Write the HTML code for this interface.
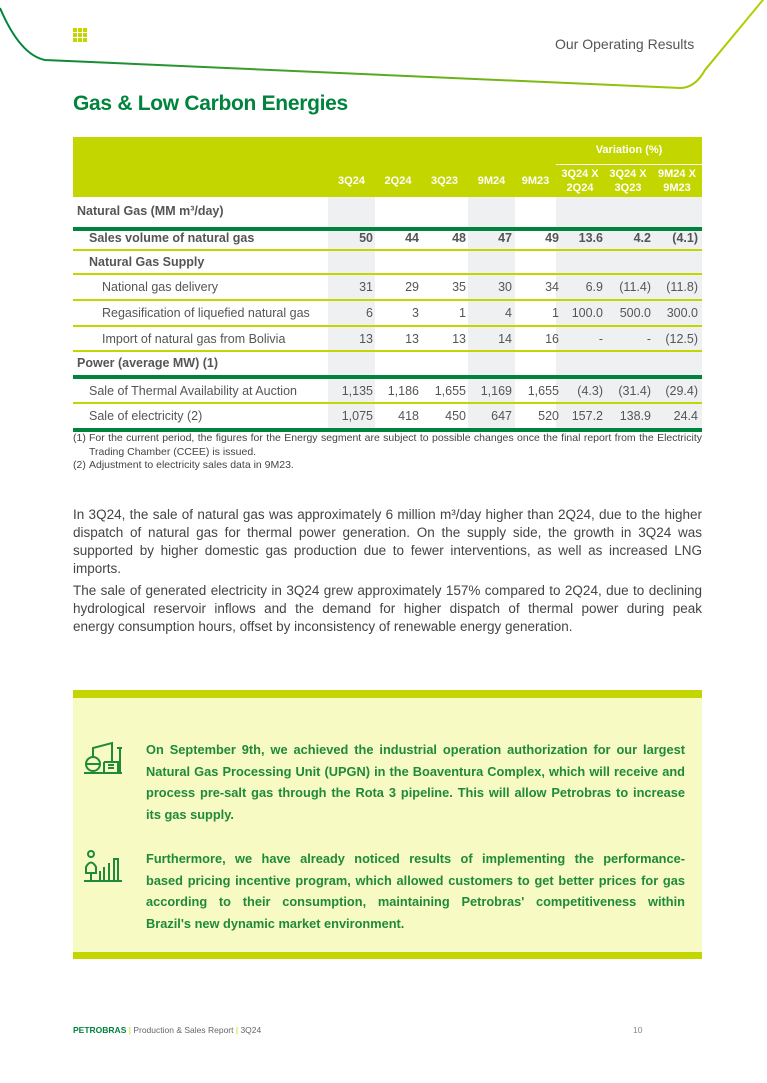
<!DOCTYPE html>
<html><head><meta charset="utf-8"><style>
body{margin:0;width:767px;height:1083px;background:#fff;position:relative;overflow:hidden;font-family:"Liberation Sans",sans-serif;color:#444}
.a{position:absolute}
.hdr{left:73px;top:137px;width:629px;height:60px;background:#c4d600}
.shade{background:#eef0f2;position:absolute}
.row{position:absolute;left:73px;width:629px;font-size:12.5px;color:#555}
.row span{position:absolute;top:0;text-align:right}
.ln{position:absolute;left:73px;width:629px;height:1.5px;background:#c4d600}
.tk{position:absolute;left:73px;width:629px;height:4px;background:#00843d}
.h{color:#fff;font-weight:bold;font-size:11px;position:absolute;text-align:center}
.p div{text-align:justify;text-align-last:justify;white-space:nowrap}
.p div.l{text-align-last:left}
.b div{text-align:justify;text-align-last:justify;white-space:nowrap}
.b div.l{text-align-last:left}
.gd{position:absolute;width:4px;height:4px;background:#c4d600}
</style></head><body>
<svg class="a" style="left:0;top:0" width="767" height="100">
<defs><linearGradient id="g" x1="0" x2="1"><stop offset="0" stop-color="#00843d"/><stop offset="1" stop-color="#b5d000"/></linearGradient></defs>
<path d="M0,8 Q20,55 45,60 L680,88 Q695,88 705,70 L767,-5" fill="none" stroke="url(#g)" stroke-width="2"/>
</svg>
<div class="gd" style="left:73px;top:28px"></div><div class="gd" style="left:78px;top:28px"></div><div class="gd" style="left:83px;top:28px"></div>
<div class="gd" style="left:73px;top:33px"></div><div class="gd" style="left:78px;top:33px"></div><div class="gd" style="left:83px;top:33px"></div>
<div class="gd" style="left:73px;top:38px"></div><div class="gd" style="left:78px;top:38px"></div><div class="gd" style="left:83px;top:38px"></div>
<div class="a" style="left:555px;top:36px;font-size:14px;color:#555">Our Operating Results</div>
<div class="a" style="left:73px;top:92px;font-size:21px;font-weight:bold;color:#00843d;letter-spacing:-0.3px">Gas &amp; Low Carbon Energies</div>

<div class="a hdr"></div>
<div class="h" style="left:556px;top:144px;width:146px">Variation (%)</div>
<div class="a" style="left:556px;top:164px;width:146px;height:1px;background:#fff"></div>
<div class="h" style="left:328px;top:175px;width:47px">3Q24</div>
<div class="h" style="left:375px;top:175px;width:46px">2Q24</div>
<div class="h" style="left:421px;top:175px;width:47px">3Q23</div>
<div class="h" style="left:468px;top:175px;width:47px">9M24</div>
<div class="h" style="left:515px;top:175px;width:41px">9M23</div>
<div class="h" style="left:556px;top:167px;width:48px;line-height:14px">3Q24 X<br>2Q24</div>
<div class="h" style="left:604px;top:167px;width:48px;line-height:14px">3Q24 X<br>3Q23</div>
<div class="h" style="left:652px;top:167px;width:50px;line-height:14px">9M24 X<br>9M23</div>

<div class="shade" style="left:328px;top:197px;width:47px;height:231px"></div>
<div class="shade" style="left:468px;top:197px;width:47px;height:231px"></div>
<div class="shade" style="left:556px;top:197px;width:146px;height:231px"></div>

<div class="tk" style="top:227px"></div>
<div class="ln" style="top:249px"></div>
<div class="ln" style="top:273px"></div>
<div class="ln" style="top:299px"></div>
<div class="ln" style="top:325px"></div>
<div class="ln" style="top:350px"></div>
<div class="tk" style="top:375px"></div>
<div class="ln" style="top:402px"></div>
<div class="tk" style="top:428px"></div>

<div class="row" style="top:204px;font-weight:bold;color:#555"><span style="left:4px;text-align:left">Natural Gas (MM m³/day)</span></div>
<div class="row" style="top:231px;font-weight:bold"><span style="left:16px;text-align:left">Sales volume of natural gas</span>
<span style="left:250px;width:50px">50</span><span style="left:296px;width:50px">44</span><span style="left:343px;width:50px">48</span><span style="left:389px;width:50px">47</span><span style="left:436px;width:50px">49</span><span style="left:480px;width:50px">13.6</span><span style="left:528px;width:50px">4.2</span><span style="left:575px;width:50px">(4.1)</span></div>
<div class="row" style="top:255px;font-weight:bold"><span style="left:16px;text-align:left">Natural Gas Supply</span></div>
<div class="row" style="top:280px"><span style="left:29px;text-align:left">National gas delivery</span>
<span style="left:250px;width:50px">31</span><span style="left:296px;width:50px">29</span><span style="left:343px;width:50px">35</span><span style="left:389px;width:50px">30</span><span style="left:436px;width:50px">34</span><span style="left:480px;width:50px">6.9</span><span style="left:528px;width:50px">(11.4)</span><span style="left:575px;width:50px">(11.8)</span></div>
<div class="row" style="top:306px"><span style="left:29px;text-align:left">Regasification of liquefied natural gas</span>
<span style="left:250px;width:50px">6</span><span style="left:296px;width:50px">3</span><span style="left:343px;width:50px">1</span><span style="left:389px;width:50px">4</span><span style="left:436px;width:50px">1</span><span style="left:480px;width:50px">100.0</span><span style="left:528px;width:50px">500.0</span><span style="left:575px;width:50px">300.0</span></div>
<div class="row" style="top:332px"><span style="left:29px;text-align:left">Import of natural gas from Bolivia</span>
<span style="left:250px;width:50px">13</span><span style="left:296px;width:50px">13</span><span style="left:343px;width:50px">13</span><span style="left:389px;width:50px">14</span><span style="left:436px;width:50px">16</span><span style="left:480px;width:50px">-</span><span style="left:528px;width:50px">-</span><span style="left:575px;width:50px">(12.5)</span></div>
<div class="row" style="top:356px;font-weight:bold"><span style="left:4px;text-align:left">Power (average MW) (1)</span></div>
<div class="row" style="top:384px"><span style="left:16px;text-align:left">Sale of Thermal Availability at Auction</span>
<span style="left:250px;width:50px">1,135</span><span style="left:296px;width:50px">1,186</span><span style="left:343px;width:50px">1,655</span><span style="left:389px;width:50px">1,169</span><span style="left:436px;width:50px">1,655</span><span style="left:480px;width:50px">(4.3)</span><span style="left:528px;width:50px">(31.4)</span><span style="left:575px;width:50px">(29.4)</span></div>
<div class="row" style="top:409px"><span style="left:16px;text-align:left">Sale of electricity (2)</span>
<span style="left:250px;width:50px">1,075</span><span style="left:296px;width:50px">418</span><span style="left:343px;width:50px">450</span><span style="left:389px;width:50px">647</span><span style="left:436px;width:50px">520</span><span style="left:480px;width:50px">157.2</span><span style="left:528px;width:50px">138.9</span><span style="left:575px;width:50px">24.4</span></div>

<div class="a" style="left:73px;top:432px;width:629px;font-size:10.5px;line-height:13.5px;color:#444">
<div style="display:flex"><span style="width:16px">(1)</span><span style="flex:1;text-align:justify">For the current period, the figures for the Energy segment are subject to possible changes once the final report from the Electricity Trading Chamber (CCEE) is issued.</span></div>
<div style="display:flex"><span style="width:16px">(2)</span><span>Adjustment to electricity sales data in 9M23.</span></div>
</div>

<div class="a p" style="left:73px;top:506px;width:629px;font-size:13.5px;line-height:18px;color:#444">
<div>In 3Q24, the sale of natural gas was approximately 6 million m³/day higher than 2Q24, due to the higher</div>
<div>dispatch of natural gas for thermal power generation. On the supply side, the growth in 3Q24 was</div>
<div>supported by higher domestic gas production due to fewer interventions, as well as increased LNG</div>
<div class="l">imports.</div>
<div style="margin-top:4px">The sale of generated electricity in 3Q24 grew approximately 157% compared to 2Q24, due to declining</div>
<div>hydrological reservoir inflows and the demand for higher dispatch of thermal power during peak</div>
<div class="l">energy consumption hours, offset by inconsistency of renewable energy generation.</div>
</div>

<div class="a" style="left:73px;top:690px;width:629px;height:8px;background:#c4d600"></div>
<div class="a" style="left:73px;top:698px;width:629px;height:254px;background:#f7fac2"></div>
<div class="a" style="left:73px;top:952px;width:629px;height:7px;background:#c4d600"></div>

<svg class="a" style="left:84px;top:740px" width="40" height="40" viewBox="0 0 40 40" fill="none" stroke="#1f8a3a" stroke-width="2">
<circle cx="9" cy="24" r="7"/><path d="M2,24 H16 M0,33 H38 M20,22 V32 M20,22 H34 V32 M24,25 H30 M24,28 H30 M36,8 V32 M33,8 H38 M9,17 V8 L28,3 V22"/></svg>
<svg class="a" style="left:84px;top:849px" width="40" height="34" viewBox="0 0 40 34" fill="none" stroke="#1f8a3a" stroke-width="2">
<circle cx="7" cy="5" r="3"/><path d="M2,18 Q7,9 12,18 V24 H2 Z M7,24 V32 M0,32 H38 M16,32 V22 M20,32 V18 M25,32 V14 M30,32 V10 H34 V32"/></svg>

<div class="a b" style="left:146px;top:739px;width:539px;font-size:12.8px;line-height:21.5px;color:#1f8a3a;font-weight:bold">
<div>On September 9th, we achieved the industrial operation authorization for our largest</div>
<div>Natural Gas Processing Unit (UPGN) in the Boaventura Complex, which will receive and</div>
<div>process pre-salt gas through the Rota 3 pipeline. This will allow Petrobras to increase</div>
<div class="l">its gas supply.</div>
<div style="margin-top:23px">Furthermore, we have already noticed results of implementing the performance-</div>
<div>based pricing incentive program, which allowed customers to get better prices for gas</div>
<div>according to their consumption, maintaining Petrobras' competitiveness within</div>
<div class="l">Brazil's new dynamic market environment.</div>
</div>

<div class="a" style="left:73px;top:1025px;font-size:8.5px;color:#666"><b style="color:#00843d">PETROBRAS</b> <span style="color:#c4d600">|</span> Production &amp; Sales Report <span style="color:#c4d600">|</span> 3Q24</div>
<div class="a" style="left:633px;top:1025px;font-size:8.5px;color:#888">10</div>
</body></html>
